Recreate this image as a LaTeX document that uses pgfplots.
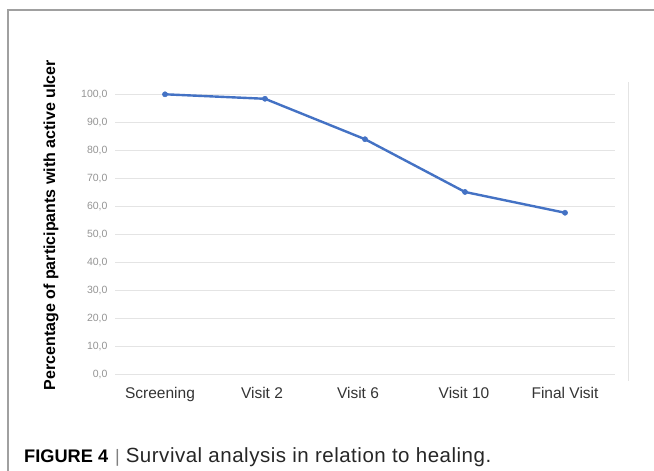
\documentclass[border=0pt]{standalone}
\usepackage{pgfplots}
\pgfplotsset{compat=1.18}
\usepackage{fontspec}
\setmainfont{Liberation Sans}
\definecolor{lineblue}{HTML}{4472C4}
\definecolor{gridgray}{HTML}{E4E4E4}
\definecolor{framegray}{HTML}{A0A0A0}
\begin{document}
\begin{tikzpicture}
\path[use as bounding box] (0pt,0pt) rectangle (654pt,471pt);
\draw[color=framegray, line width=1.2pt] (8pt,0pt) -- (8pt,461pt) -- (654pt,461pt);
\draw[color=gridgray, line width=1pt] (628pt,389pt) -- (628pt,90pt);
\begin{axis}[
  at={(115pt,96pt)}, anchor=south west,
  scale only axis, width=500pt, height=280.7pt,
  xmin=-0.5, xmax=4.5, ymin=0, ymax=100,
  axis line style={draw=none}, major tick style={draw=none},
  ymajorgrids, grid style={color=gridgray, line width=1pt},
  xtick={0,1,2,3,4},
  xticklabels={\kern-10pt Screening, \kern-6pt Visit 2, \kern-14pt\raisebox{-2pt}{Visit 6}, \kern-2pt Visit 10, Final Visit},
  ytick={0,10,...,100},
  yticklabel style={font=\fontsize{10.5}{12}\selectfont, text=black!42, xshift=-4pt},
  xticklabel style={font=\fontsize{15.5}{18}\selectfont, text=black!80, yshift=-8.5pt},
  /pgf/number format/.cd, fixed, fixed zerofill, precision=1, use comma, assume math mode=true,
  /pgfplots/.cd,
  ylabel={Percentage of participants with active ulcer},
  ylabel style={font=\fontsize{16}{18}\selectfont\bfseries, at={(axis description cs:-0.128,0.534)}, anchor=center},
  clip=false,
]
\addplot[color=lineblue, line width=2.4pt, mark=*, mark size=2.6pt, mark options={fill=lineblue, draw=lineblue, line width=0.5pt}]
  coordinates {(0,100) (1,98.4) (2,84.0) (3,65.2) (4,57.8)};
\end{axis}
\node[anchor=base west, inner sep=0pt] at (24pt,8pt) {{\fontsize{18.2}{20}\selectfont\bfseries FIGURE 4}\hspace{7pt}{\fontsize{18}{20}\selectfont\color{black!50}|}\hspace{6pt}{\fontsize{20.5}{22}\selectfont\addfontfeature{LetterSpace=2.5}\color{black!85}Survival analysis in relation to healing.}};
\end{tikzpicture}
\end{document}
